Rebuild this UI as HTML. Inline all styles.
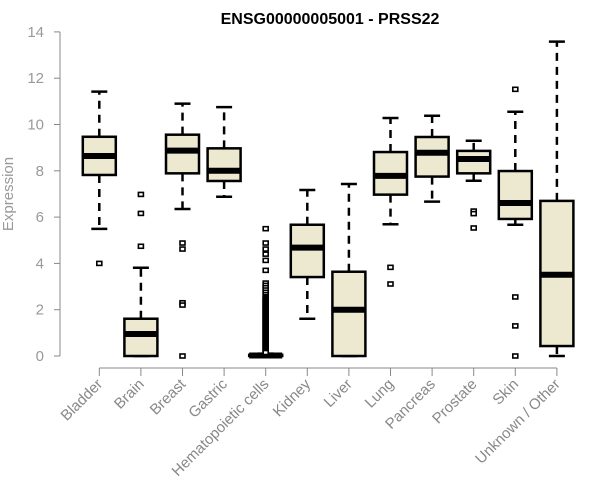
<!DOCTYPE html>
<html><head><meta charset="utf-8"><style>
body{margin:0;background:#fff}
svg{display:block;font-family:"Liberation Sans",Arial,sans-serif}
</style></head><body>
<svg id="chart" width="600" height="500">
<text x="330" y="24" text-anchor="middle" font-weight="bold" font-size="16" fill="#000">ENSG00000005001 - PRSS22</text>
<text transform="translate(13,194) rotate(-90)" text-anchor="middle" font-size="15" fill="#999">Expression</text>
<g id="axes"></g><g id="marks"></g>
</svg>
<script>
const categories=["Bladder","Brain","Breast","Gastric","Hematopoietic cells","Kidney","Liver","Lung","Pancreas","Prostate","Skin","Unknown / Other"];
const lowWhisker=[5.49,0,6.35,6.88,0,1.61,0,5.69,6.67,7.57,5.67,0];
const q1=[7.82,0,7.89,7.56,0,3.41,0,6.97,7.75,7.89,5.92,0.43];
const medians=[8.64,0.95,8.87,8.0,0.02,4.68,2.0,7.78,8.78,8.51,6.61,3.51];
const q3=[9.47,1.61,9.56,8.97,0.05,5.67,3.64,8.81,9.46,8.86,7.99,6.7];
const highWhisker=[11.42,3.81,10.9,10.75,0.1,7.17,7.43,10.28,10.38,9.3,10.55,13.58];
const outliers=[[4.0],[6.98,6.16,4.74],[4.88,4.62,2.3,2.2,0],[],
[5.5,4.88,4.62,4.4,4.13,3.7,3.15,3.05,2.95,2.85,2.75,2.65,2.56,2.5,2.45,2.4,2.35,2.3,2.25,2.2,2.15,2.1,2.05,2.0,1.95,1.9,1.85,1.8,1.75,1.7,1.65,1.6,1.55,1.5,1.45,1.4,1.35,1.3,1.25,1.2,1.15,1.1,1.05,1.0,0.95,0.9,0.85,0.8,0.75,0.7,0.65,0.6,0.55,0.5,0.45,0.4,0.35,0.3,0.25,0.2,0.15],
[],[],[3.83,3.11],[],[6.26,6.15,5.53],[11.52,2.55,1.3,0],[]];
const yTicks=[0,2,4,6,8,10,12,14];
const NS="http://www.w3.org/2000/svg";
const X=i=>99.3+41.6*i, Y=v=>356-v*23.15;
function mk(tag,attrs,parent){const e=document.createElementNS(NS,tag);for(const k in attrs)e.setAttribute(k,attrs[k]);parent.appendChild(e);return e;}
const axes=document.getElementById('axes'),marks=document.getElementById('marks');
let e=mk('line',{x1:60,x2:60,y1:Y(0),y2:Y(14),stroke:'#888','stroke-width':1},axes);


yTicks.forEach(t=>{
 let l=mk('line',{x1:54,x2:60,y1:Y(t),y2:Y(t),stroke:'#888'},axes);
 
 
 let tx=mk('text',{x:44,y:Y(t)+5,'text-anchor':'end','font-size':15,fill:'#999'},axes);tx.textContent=t;
 
 
});
e=mk('line',{x1:X(0),x2:X(11),y1:368,y2:368,stroke:'#888'},axes);


categories.forEach((c,i)=>{
 let l=mk('line',{x1:X(i),x2:X(i),y1:368,y2:376,stroke:'#888'},axes);
 
 
 let tx=mk('text',{transform:`translate(${X(i)+4},385) rotate(-45)`,'text-anchor':'end','font-size':15,fill:'#888'},axes);tx.textContent=c;
 
 
 const g=mk('g',{},marks);
 
 
 const x=X(i),w=33;
 mk('line',{x1:x,x2:x,y1:Y(q3[i]),y2:Y(highWhisker[i]),stroke:'#000','stroke-width':2.5,'stroke-dasharray':'8,6'},g);
 mk('line',{x1:x,x2:x,y1:Y(q1[i]),y2:Y(lowWhisker[i]),stroke:'#000','stroke-width':2.5,'stroke-dasharray':'8,6'},g);
 mk('line',{x1:x-8,x2:x+8,y1:Y(highWhisker[i]),y2:Y(highWhisker[i]),stroke:'#000','stroke-width':2.5},g);
 mk('line',{x1:x-8,x2:x+8,y1:Y(lowWhisker[i]),y2:Y(lowWhisker[i]),stroke:'#000','stroke-width':2.5},g);
 mk('rect',{x:x-w/2,y:Y(q3[i]),width:w,height:Math.max(Y(q1[i])-Y(q3[i]),1),fill:'#ede8d0',stroke:'#000','stroke-width':2.5},g);
 mk('line',{x1:x-w/2,x2:x+w/2,y1:Y(medians[i]),y2:Y(medians[i]),stroke:'#000','stroke-width':6},g);
 outliers[i].forEach(v=>{
  let r=mk('rect',{x:x-2.5,y:Y(v)-2,width:5,height:4,fill:'#fff',stroke:'#000','stroke-width':1.6},g);
  
  
 });
});
</script>
</body></html>
